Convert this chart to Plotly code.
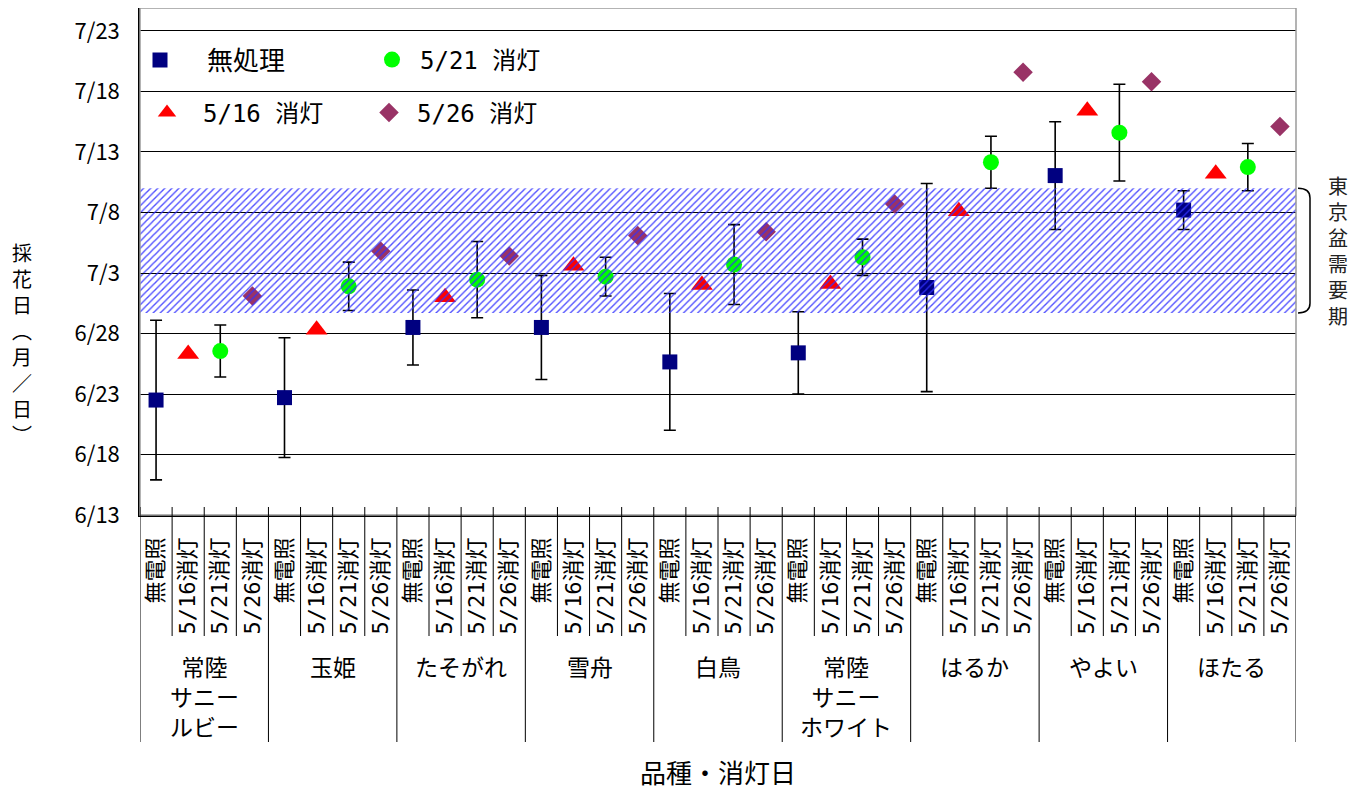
import plotly.graph_objects as go

# ---------------- data ----------------
varieties = ["常陸<br>サニー<br>ルビー", "玉姫", "たそがれ", "雪舟", "白鳥",
             "常陸<br>サニー<br>ホワイト", "はるか", "やよい", "ほたる"]
treat_ticks = ["無電照", "5/16消灯", "5/21消灯", "5/26消灯"]
series_names = ["無処理", "5/16 消灯", "5/21 消灯", "5/26 消灯"]

# harvest date as day counted from June 1 (6/30 = 30, 7/1 = 31)
ctrl_mean = [22.5, 22.7, 28.5, 28.5, 25.65, 26.4, 31.8, 41.05, 38.2]
ctrl_err = [6.6, 4.95, 3.1, 4.3, 5.65, 3.4, 8.6, 4.45, 1.6]
off516 = [26.3, 28.3, 31.0, 33.6, 32.0, 32.1, 38.1, 46.4, 41.2]
off521_mean = [26.55, 31.9, 32.45, 32.7, 33.7, 34.3, 42.15, 44.6, 41.75]
off521_err = [2.15, 2.0, 3.15, 1.6, 3.3, 1.5, 2.15, 4.0, 1.95]
off526 = [31.1, 34.8, 34.4, 36.1, 36.4, 38.7, 49.6, 48.8, 45.1]

ytick_vals = [13, 18, 23, 28, 33, 38, 43, 48, 53]
ytick_text = ["6/13", "6/18", "6/23", "6/28", "7/3", "7/8", "7/13", "7/18", "7/23"]
y_range = [13, 54.9]

demand_period = [29.7, 40.0]   # 東京盆需要期 (6/29.7 - 7/10)
demand_label = "東京盆需要期"

# ---------------- layout helpers (target-window pixels) ----------------
WIN_W, WIN_H = 1365, 789
OFF = 8                       # default page margin of the html body
L, R, T, B = 140, 1296, 8, 515
FONT = "Noto Sans CJK JP"
MONO = "DejaVu Sans Mono, Noto Sans CJK JP"


def px_x(px):
    return (px - L) / (R - L)


def px_y(py):
    return (B - py) / (B - T)


n_var = len(varieties)
n_tr = len(treat_ticks)
n_cat = n_var * n_tr
cat_ticktext = [treat_ticks[j] for i in range(n_var) for j in range(n_tr)]


def xs(j):
    return [i * n_tr + j for i in range(n_var)]


fig = go.Figure()

styles = [
    dict(symbol="square", size=15, color="#000080"),
    dict(symbol="triangle-up", size=19, color="#FF0000"),
    dict(symbol="circle", size=16, color="#00FF00"),
    dict(symbol="diamond", size=15, color="#993366"),
]
yvals = [ctrl_mean, off516, off521_mean, off526]
errs = [ctrl_err, None, off521_err, None]
legends = ["legend", "legend3", "legend2", "legend4"]

for j in range(n_tr):
    err = None
    if errs[j] is not None:
        err = dict(type="data", array=errs[j], color="black", thickness=1.6, width=6)
    fig.add_trace(go.Scatter(
        x=xs(j), y=yvals[j], mode="markers", name=series_names[j],
        marker=dict(symbol=styles[j]["symbol"], size=styles[j]["size"],
                    color=styles[j]["color"], line=dict(width=0)),
        error_y=err, legend=legends[j], cliponaxis=False,
    ))

# hatched demand band drawn above the markers
fig.add_trace(go.Scatter(
    x=[-0.5, n_cat - 0.5, n_cat - 0.5, -0.5, -0.5],
    y=[demand_period[0], demand_period[0], demand_period[1], demand_period[1], demand_period[0]],
    mode="lines", fill="toself", fillcolor="rgba(0,0,0,0)",
    fillpattern=dict(shape="/", fgcolor="#3030ff", bgcolor="rgba(0,0,0,0)",
                     size=5, solidity=0.28, fgopacity=0.85),
    line=dict(width=0), hoverinfo="skip", showlegend=False,
))

shapes = []
# plot frame (gray top/right)
shapes.append(dict(type="rect", xref="paper", yref="paper", x0=0, x1=1, y0=0, y1=1,
                   line=dict(color="#9a9a9a", width=1.5), layer="above"))
# category separators below the axis
for k in range(n_cat + 1):
    bottom = 742 if k % n_tr == 0 else 636
    shapes.append(dict(type="line", xref="x", yref="paper", x0=k - 0.5, x1=k - 0.5,
                       y0=px_y(507), y1=px_y(bottom), line=dict(color="black", width=1),
                       layer="above"))
# bracket for demand period
bx0, bx1 = px_x(1298), px_x(1310)
dy = 0.8
yt, yb = demand_period[1], demand_period[0]
shapes.append(dict(
    type="path", xref="paper", yref="y",
    path=f"M {bx0},{yt} Q {bx1},{yt} {bx1},{yt - dy} L {bx1},{yb + dy} Q {bx1},{yb} {bx0},{yb}",
    line=dict(color="black", width=1.5)))

annotations = []
for i, v in enumerate(varieties):
    annotations.append(dict(x=i * n_tr + 1.5, xref="x", y=px_y(647), yref="paper",
                            text=v, showarrow=False, yanchor="top", xanchor="center",
                            font=dict(size=23, family=FONT, color="black")))
annotations.append(dict(x=0.5, xref="paper", y=px_y(771), yref="paper",
                        text="品種・消灯日", showarrow=False, yanchor="middle",
                        font=dict(size=26, family=FONT, color="black")))
annotations.append(dict(x=px_x(22), xref="paper", y=px_y(343), yref="paper",
                        text="<br>".join(list("採花日︵月／日︶")), showarrow=False,
                        yanchor="middle", xanchor="center",
                        font=dict(size=20, family=FONT, color="black")))
annotations.append(dict(x=px_x(1338), xref="paper", y=sum(demand_period) / 2, yref="y",
                        text="<br>".join(list(demand_label)), showarrow=False,
                        yanchor="middle", xanchor="center",
                        font=dict(size=20, family=FONT, color="#222222")))


def leg(xpx, ypx, itemwidth, font_family, size):
    return dict(x=px_x(xpx), y=px_y(ypx), xanchor="left", yanchor="middle",
                bgcolor="rgba(0,0,0,0)", borderwidth=0, itemwidth=itemwidth,
                font=dict(size=size, family=font_family, color="black"))


fig.update_layout(
    width=WIN_W - OFF, height=WIN_H - OFF,
    margin=dict(l=L - OFF, r=WIN_W - R, t=T - OFF, b=WIN_H - B, pad=0),
    plot_bgcolor="white", paper_bgcolor="white",
    showlegend=True,
    legend=leg(113, 60, 84, FONT, 26),
    legend3=leg(131, 113, 62, MONO, 24),
    legend2=leg(364, 60, 46, MONO, 24),
    legend4=leg(361, 113, 46, MONO, 24),
    shapes=shapes,
    annotations=annotations,
    xaxis=dict(range=[-0.5, n_cat - 0.5], tickmode="array", tickvals=list(range(n_cat)),
               ticktext=cat_ticktext, tickangle=-90, ticks="", showgrid=False,
               showline=True, linecolor="black", linewidth=1.5, zeroline=False,
               ticklabelstandoff=12,
               tickfont=dict(size=22, family=MONO, color="black")),
    yaxis=dict(range=y_range, tickmode="array", tickvals=ytick_vals, ticktext=ytick_text,
               showgrid=True, gridcolor="black", gridwidth=1, zeroline=False,
               showline=True, linecolor="black", linewidth=1.5,
               ticks="inside", ticklen=8, tickcolor="black", ticklabelstandoff=14,
               tickfont=dict(size=22, family=FONT, color="black")),
)

fig.write_html("out.html")
